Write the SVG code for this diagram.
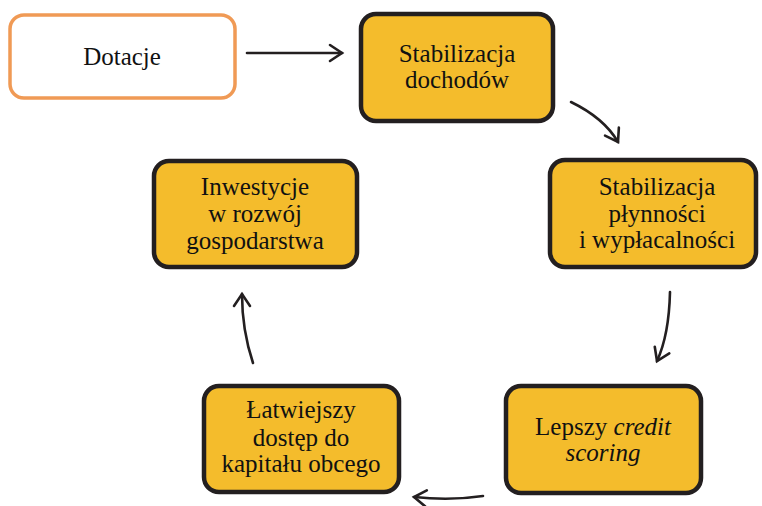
<svg xmlns="http://www.w3.org/2000/svg" width="762" height="506" viewBox="0 0 762 506">
<style>
.box{fill:#F4BC2C;stroke:#231F20;stroke-width:4.5}
.start{fill:#FFFFFF;stroke:#F09A55;stroke-width:3.5}
.t{font-size:25px;fill:#111;text-anchor:middle}
.c{fill:none;stroke:#231F20;stroke-width:2.6;stroke-linecap:round}
</style>
<defs>
<marker id="ah" markerUnits="userSpaceOnUse" markerWidth="20" markerHeight="20" refX="14" refY="9" orient="auto" overflow="visible">
<path d="M2,1 L14,9 L2,17" fill="none" stroke="#231F20" stroke-width="2.6" stroke-linecap="round" stroke-linejoin="miter"/>
</marker>
</defs>
<rect width="762" height="506" fill="#FFFFFF"/>
<g id="connectors">
<path class="c" d="M247,53 L342,53" marker-end="url(#ah)"/>
<path class="c" d="M571,102 Q604,118 618,142" marker-end="url(#ah)"/>
<path class="c" d="M670,292 Q669,335 657,361" marker-end="url(#ah)"/>
<path class="c" d="M483,496 Q450,501 414,497" marker-end="url(#ah)"/>
<path class="c" d="M253,363 Q242,330 242,294" marker-end="url(#ah)"/>
</g>
<g font-family="Liberation Serif, serif">
<g id="dotacje">
<rect class="start" x="10" y="15" width="225" height="83" rx="14"/>
<text class="t" x="122" y="65">Dotacje</text>
</g>
<g id="stabilizacja-dochodow">
<rect class="box" x="361" y="14" width="192" height="107" rx="15"/>
<text class="t" x="457" y="62">Stabilizacja</text>
<text class="t" x="457" y="88">dochodów</text>
</g>
<g id="stabilizacja-plynnosci">
<rect class="box" x="550" y="160" width="206" height="107" rx="15"/>
<text class="t" x="657" y="195">Stabilizacja</text>
<text class="t" x="657" y="222">płynności</text>
<text class="t" x="657" y="248">i wypłacalności</text>
</g>
<g id="credit-scoring">
<rect class="box" x="506" y="386" width="195" height="107" rx="15"/>
<text class="t" x="603" y="435">Lepszy <tspan font-style="italic">credit</tspan></text>
<text class="t" x="603" y="461" font-style="italic">scoring</text>
</g>
<g id="latwiejszy-dostep">
<rect class="box" x="204" y="386" width="195" height="106" rx="15"/>
<text class="t" x="301" y="418">Łatwiejszy</text>
<text class="t" x="301" y="446">dostęp do</text>
<text class="t" x="301" y="472">kapitału obcego</text>
</g>
<g id="inwestycje">
<rect class="box" x="154" y="161" width="203" height="106" rx="15"/>
<text class="t" x="255" y="195">Inwestycje</text>
<text class="t" x="255" y="222">w rozwój</text>
<text class="t" x="255" y="249">gospodarstwa</text>
</g>
</g>
</svg>
